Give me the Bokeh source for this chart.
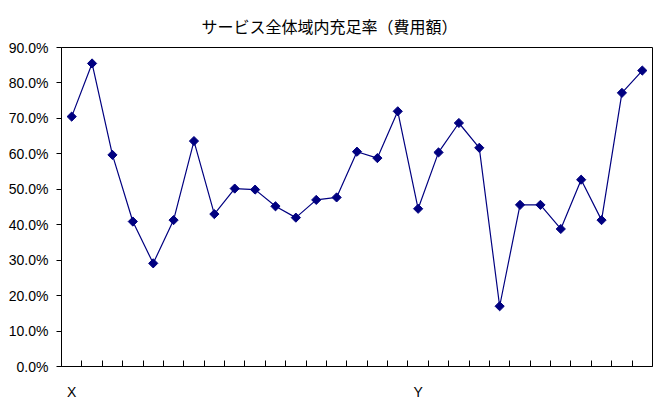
import math
from bokeh.plotting import figure
from bokeh.models import FixedTicker, NumeralTickFormatter, Range1d, ColumnDataSource
from bokeh.embed import file_html
from bokeh.resources import INLINE

category_labels = ["X"] + [""] * 16 + ["Y"] + [""] * 11
values = [70.5, 85.5, 59.7, 40.9, 29.1, 41.3, 63.6, 43.0, 50.2, 49.9,
          45.2, 42.0, 47.0, 47.7, 60.6, 58.8, 72.0, 44.5, 60.4, 68.7,
          61.7, 17.0, 45.6, 45.6, 38.8, 52.7, 41.3, 77.2, 83.5]
y_ticks = [0.0, 0.1, 0.2, 0.3, 0.4, 0.5, 0.6, 0.7, 0.8, 0.9]

n = len(values)
xs = [i + 0.5 for i in range(n)]
src = ColumnDataSource(dict(x=xs, y=[v / 100 for v in values]))

p = figure(width=660, height=402, output_backend="svg", toolbar_location=None,
           x_range=Range1d(0, n), y_range=Range1d(0, 0.9),
           min_border_left=61, min_border_right=8, min_border_top=47, min_border_bottom=35)

p.title.text = "サービス全体域内充足率（費用額）"
p.title.align = "left"
p.title.offset = 140
p.title.text_font = "Noto Sans CJK JP"
p.title.text_font_size = "16px"
p.title.text_font_style = "normal"
p.title.text_color = "black"
p.title.standoff = 20

p.line("x", "y", source=src, line_color="#000080", line_width=1.2)
p.scatter("x", "y", source=src, marker="square", size=6.5, angle=math.pi / 4,
          fill_color="#000080", line_color="#000080")

p.xgrid.visible = False
p.ygrid.visible = False
p.outline_line_color = "black"
p.outline_line_width = 1

xa = p.xaxis[0]
label_pos = [xs[i] for i, l in enumerate(category_labels) if l]
xa.ticker = FixedTicker(ticks=label_pos, minor_ticks=list(range(1, n)))
xa.major_label_overrides = {xs[i]: l for i, l in enumerate(category_labels) if l}
xa.major_tick_in = 0
xa.major_tick_out = 0
xa.minor_tick_in = 6
xa.minor_tick_out = 0
xa.minor_tick_line_color = "black"
xa.axis_line_color = "black"
xa.major_label_standoff = 17
xa.major_label_text_font = "Liberation Sans"
xa.major_label_text_font_size = "14px"
xa.major_label_text_color = "black"

ya = p.yaxis[0]
ya.ticker = FixedTicker(ticks=y_ticks)
ya.formatter = NumeralTickFormatter(format="0.0%")
ya.major_tick_in = 0
ya.major_tick_out = 5
ya.minor_tick_line_color = None
ya.axis_line_color = "black"
ya.major_label_standoff = 8
ya.major_label_text_font = "Liberation Sans"
ya.major_label_text_font_size = "14px"
ya.major_label_text_color = "black"

open("out.html", "w").write(file_html(p, INLINE))
